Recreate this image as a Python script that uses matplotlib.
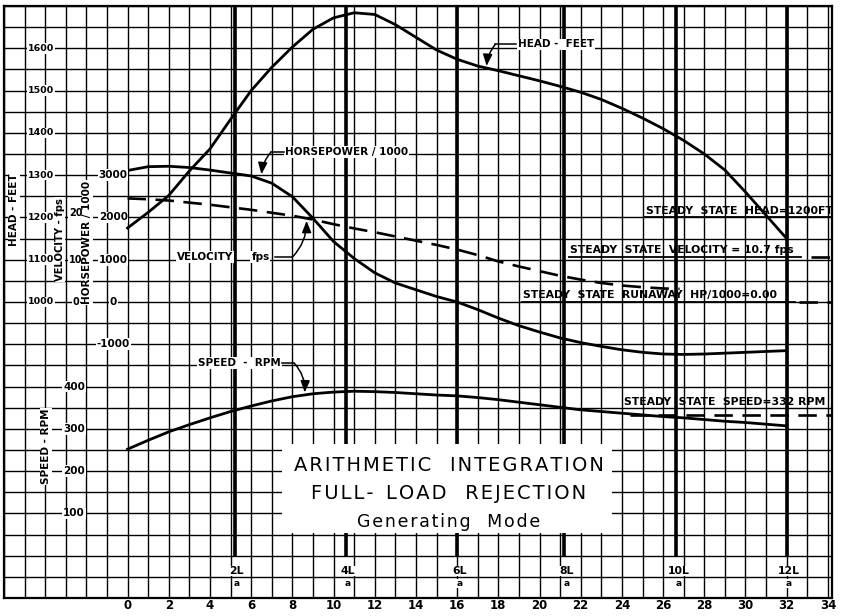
import matplotlib
matplotlib.use("Agg")
import matplotlib.pyplot as plt
from matplotlib.patches import Rectangle

# ── Data (time in s) ──────────────────────────────────────────────
TIME_S = list(range(0, 33))
HEAD_FT = [1175, 1212, 1252, 1310, 1362, 1432, 1500, 1555, 1603, 1645, 1672,
           1684, 1680, 1656, 1626, 1596, 1574, 1558, 1547, 1535, 1523, 1510,
           1496, 1479, 1458, 1435, 1410, 1382, 1350, 1312, 1260, 1205, 1150]
HP_1000 = [3110, 3200, 3210, 3180, 3120, 3050, 2980, 2810, 2490, 1980, 1430,
           1030, 690, 450, 290, 130, 0, -180, -380, -560, -710, -850, -960,
           -1050, -1130, -1190, -1230, -1240, -1230, -1210, -1190, -1170, -1150]
SPEED_RPM = [252, 273, 293, 310, 326, 341, 354, 366, 376, 383, 387, 389, 388,
             386, 383, 380, 378, 374, 369, 363, 357, 351, 345, 341, 337, 333,
             329, 326, 322, 318, 315, 311, 307]
VEL_T = list(range(0, 27)) + [26.8]
VEL_FPS = [24.5, 24.3, 24.0, 23.5, 23.0, 22.4, 21.8, 21.1, 20.4, 19.5, 18.4,
           17.4, 16.5, 15.5, 14.5, 13.5, 12.4, 11.1, 9.6, 8.4, 7.3, 6.2, 5.3,
           4.5, 3.9, 3.5, 3.2, 3.1]

# reflection times 2L/a ... 12L/a
WAVE_T = [5.2, 10.6, 16.0, 21.2, 26.65, 32.0]
WAVE_LBL = ["2L", "4L", "6L", "8L", "10L", "12L"]

SS_HEAD = 1200
SS_VEL = 10.7
SS_HP = 0.00
SS_RPM = 332

HEAD_TICKS = [1000, 1100, 1200, 1300, 1400, 1500, 1600]
VEL_TICKS = [0, 10, 20]
HP_TICKS = [-1000, 0, 1000, 2000, 3000]
RPM_TICKS = [100, 200, 300, 400]
X_TICKS = list(range(0, 35, 2))


# every curve shares the head-feet scale of the graph paper
def hp_y(p):
    return 1000 + p / 10.0


def vel_y(v):
    return 1000 + 10.0 * v


def rpm_y(r):
    return 400 + r


def spaced(s):
    # hand lettering is spread out: put a hair space between letters
    return "\u200a".join(s)


BOLD = dict(fontweight="bold", family="DejaVu Sans")
WHITE = dict(facecolor="white", edgecolor="none", pad=0.6)

fig = plt.figure(figsize=(8.44, 6.16), dpi=100)
ax = fig.add_axes([4 / 844, 18 / 616, 828 / 844, 592 / 616])
ax.set_xlim(-6, 34.2)
ax.set_ylim(300, 1700)

# ── Graph paper ───────────────────────────────────────────────────
ax.set_xticks(X_TICKS)
ax.set_xticklabels([str(t) for t in X_TICKS], fontsize=8.5, **BOLD)
ax.set_xticks(range(-6, 35), minor=True)
ax.set_yticks(range(300, 1701, 50))
ax.set_yticks([], minor=True)
ax.tick_params(axis="both", which="both", length=0)
ax.tick_params(axis="x", pad=1)
ax.set_yticklabels([])
ax.set_axisbelow(True)
ax.grid(which="both", color="black", linewidth=1.0)
for sp in ax.spines.values():
    sp.set_linewidth(1.6)

for t in WAVE_T:
    ax.plot([t, t], [400, 1700], color="black", linewidth=2.6, zorder=0.8,
            solid_capstyle="butt")

# title panel blanks the paper behind it
ax.add_patch(Rectangle((7.5, 453), 16.0, 211, facecolor="white",
                       edgecolor="none", zorder=1))

# ── Curves ────────────────────────────────────────────────────────
ax.plot(TIME_S, HEAD_FT, color="black", linewidth=2.0, zorder=3)
ax.plot(TIME_S, [hp_y(p) for p in HP_1000], color="black", linewidth=2.0,
        zorder=3)
ax.plot(TIME_S, [rpm_y(r) for r in SPEED_RPM], color="black", linewidth=2.0,
        zorder=3)
ax.plot(VEL_T, [vel_y(v) for v in VEL_FPS], color="black", linewidth=1.9,
        dashes=(7, 3.6), zorder=3)

# ── Steady state lines ────────────────────────────────────────────
ax.plot([25.1, 34.2], [SS_HEAD, SS_HEAD], color="black", lw=1.3, zorder=3)
ax.text(25.15, SS_HEAD + 4, "STEADY  STATE  HEAD=1200FT", ha="left",
        va="bottom", fontsize=7.8, zorder=4, **BOLD)

ax.plot([21.45, 32.7], [vel_y(SS_VEL)] * 2, color="black", lw=1.3, zorder=3)
ax.plot([33.2, 34.2], [vel_y(SS_VEL)] * 2, color="black", lw=1.9,
        dashes=(7, 3.6), zorder=3)
ax.text(21.5, vel_y(SS_VEL) + 4, "STEADY  STATE  VELOCITY = 10.7 fps",
        ha="left", va="bottom", fontsize=7.8, zorder=4, **BOLD)

ax.plot([19.15, 32.4], [hp_y(SS_HP)] * 2, color="black", lw=1.3, zorder=3)
ax.plot([32.6, 34.2], [hp_y(SS_HP)] * 2, color="black", lw=1.9,
        dashes=(7, 3.6), zorder=3)
ax.text(19.2, hp_y(SS_HP) + 4, "STEADY  STATE  RUNAWAY  HP/1000=0.00",
        ha="left", va="bottom", fontsize=7.8, zorder=4, **BOLD)

ax.plot([24.4, 34.2], [rpm_y(SS_RPM)] * 2, color="black", lw=1.9,
        dashes=(7, 3.6), zorder=3)
ax.text(24.1, rpm_y(SS_RPM) + 20, "STEADY  STATE  SPEED=332 RPM",
        ha="left", va="bottom", fontsize=7.8, zorder=4, **BOLD)


# ── Curve labels with leaders ─────────────────────────────────────
def leader(path_x, path_y, tip, rad):
    ax.plot(path_x, path_y, color="black", lw=1.1, zorder=4)
    ax.annotate("", xy=tip, xytext=(path_x[-1], path_y[-1]),
                arrowprops=dict(arrowstyle="-|>,head_length=0.7,head_width=0.28",
                                color="black", lw=1.1, shrinkA=0, shrinkB=0,
                                connectionstyle=f"arc3,rad={rad}"),
                zorder=4)


ax.text(18.95, 1609, "HEAD -  FEET", ha="left", va="center", fontsize=7.5,
        bbox=WHITE, zorder=4, **BOLD)
leader([18.85, 17.85], [1609, 1609], (17.43, 1558), 0.15)

ax.text(7.65, 1354, "HORSEPOWER / 1000", ha="left", va="center",
        fontsize=7.5, bbox=WHITE, zorder=4, **BOLD)
leader([7.6, 6.95], [1354, 1354], (6.5, 1302), 0.15)

ax.text(3.75, 1106, "VELOCITY", ha="center", va="center", fontsize=7.5,
        bbox=WHITE, zorder=4, **BOLD)
ax.text(6.45, 1106, "fps", ha="center", va="center", fontsize=7.5,
        bbox=WHITE, zorder=4, **BOLD)
leader([7.15, 8.0], [1106, 1106], (8.69, 1192), 0.2)

ax.text(7.45, 855, "SPEED  -  RPM", ha="right", va="center", fontsize=7.5,
        bbox=WHITE, zorder=4, **BOLD)
leader([7.5, 8.1], [855, 855], (8.6, 786), -0.2)

# ── Title ─────────────────────────────────────────────────────────
ax.text(15.6, 614, spaced("ARITHMETIC") + "   " + spaced("INTEGRATION"),
        ha="center", va="center", fontsize=14, zorder=5, family="DejaVu Sans")
ax.text(15.6, 548, spaced("FULL-") + "  " + spaced("LOAD") + "   "
        + spaced("REJECTION"), ha="center", va="center", fontsize=14,
        zorder=5, family="DejaVu Sans")
ax.text(15.6, 479, spaced("Generating") + "   " + spaced("Mode"),
        ha="center", va="center", fontsize=12.5, zorder=5,
        family="DejaVu Sans")

# ── Reflection time labels ────────────────────────────────────────
for t, lbl in zip(WAVE_T, WAVE_LBL):
    ax.text(t + 0.1, 352, lbl, ha="center", va="bottom", fontsize=7.8,
            bbox=dict(facecolor="white", edgecolor="none", pad=0.3),
            zorder=4, **BOLD)
    ax.text(t + 0.1, 345, "a", ha="center", va="top", fontsize=6.5,
            bbox=dict(facecolor="white", edgecolor="none", pad=0.3),
            zorder=4, **BOLD)

# ── Left-hand scales ──────────────────────────────────────────────
for h in HEAD_TICKS:
    ax.text(-4.2, h, str(h), ha="center", va="center", fontsize=6.8,
            bbox=WHITE, zorder=4, **BOLD)
for v in VEL_TICKS:
    ax.text(-2.5, vel_y(v) + (10 if v == 20 else 0), str(v), ha="center",
            va="center", fontsize=7, bbox=WHITE, zorder=4, **BOLD)
for p in HP_TICKS:
    ax.text(-0.7, hp_y(p), str(p), ha="center", va="center", fontsize=7.5,
            bbox=WHITE, zorder=4, **BOLD)
for r in RPM_TICKS:
    ax.text(-2.6, rpm_y(r), str(r), ha="center", va="center", fontsize=7.5,
            bbox=WHITE, zorder=4, **BOLD)

ax.text(-5.5, 1219, "HEAD - FEET", rotation=90, ha="center", va="center",
        fontsize=7.5, bbox=WHITE, zorder=4, **BOLD)
ax.text(-3.3, 1148, "VELOCITY - fps", rotation=90, ha="center",
        va="center", fontsize=7.2, bbox=WHITE, zorder=4, **BOLD)
ax.text(-1.95, 1141, "HORSEPOWER / 1000", rotation=90, ha="center",
        va="center", fontsize=7.5, bbox=WHITE, zorder=4, **BOLD)
ax.text(-3.95, 659, "SPEED - RPM", rotation=90, ha="center", va="center",
        fontsize=7.5, bbox=WHITE, zorder=4, **BOLD)

fig.savefig("out.png", dpi=100)
